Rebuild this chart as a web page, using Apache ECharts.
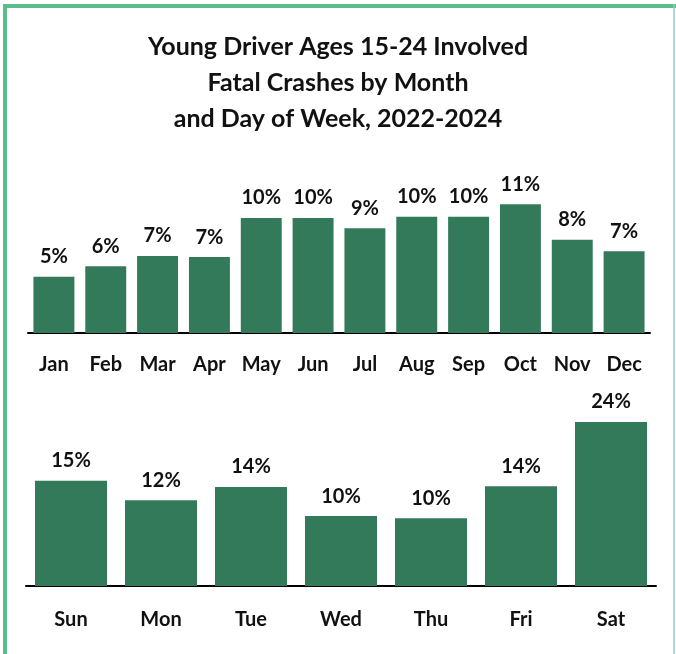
<!DOCTYPE html>
<html>
<head>
<meta charset="utf-8">
<script src="https://cdn.jsdelivr.net/npm/echarts@6/dist/echarts.min.js"></script>
<style>
  html, body { margin: 0; padding: 0; background: #fff; }
  #chart { width: 676px; height: 654px; }
</style>
</head>
<body>
<div id="chart"></div>
<script>
// 月份数据（百分比）
var months = ['Jan', 'Feb', 'Mar', 'Apr', 'May', 'Jun', 'Jul', 'Aug', 'Sep', 'Oct', 'Nov', 'Dec'];
var monthPct = [4.9, 5.8, 6.7, 6.6, 10.0, 10.0, 9.1, 10.1, 10.1, 11.2, 8.1, 7.1];

// 星期数据（百分比）
var days = ['Sun', 'Mon', 'Tue', 'Wed', 'Thu', 'Fri', 'Sat'];
var dayPct = [15.2, 12.4, 14.3, 10.1, 9.8, 14.4, 23.7];

var titleText = 'Young Driver Ages 15-24 Involved\nFatal Crashes by Month\nand Day of Week, 2022-2024';

var FONT = 'Lato';
var BAR = '#337a5b';
var EDGE = '#5bbd8e';

var chart = echarts.init(document.getElementById('chart'));

var labelStyle = {
    show: true,
    position: 'top',
    distance: 10,
    color: '#111',
    fontFamily: FONT,
    fontWeight: 'bold',
    fontSize: 20,
    formatter: function (p) { return Math.round(p.value) + '%'; }
};

function xAxisFor(idx, data, margin) {
    return {
        type: 'category',
        gridIndex: idx,
        data: data,
        axisLine: { show: true, lineStyle: { color: '#000', width: 2 } },
        axisTick: { show: false },
        axisLabel: {
            margin: margin,
            color: '#111',
            fontFamily: FONT,
            fontWeight: 'bold',
            fontSize: 20
        }
    };
}

chart.setOption({
    animation: false,
    backgroundColor: '#fff',
    title: {
        text: titleText,
        left: 'center',
        top: 24,
        textStyle: {
            fontFamily: FONT,
            fontWeight: 'bold',
            fontSize: 25,
            lineHeight: 36,
            color: '#111'
        }
    },
    graphic: [
        { type: 'line', shape: { x1: 3, y1: 6, x2: 676, y2: 6 }, style: { stroke: EDGE, lineWidth: 4 } },
        { type: 'line', shape: { x1: 5, y1: 4, x2: 5, y2: 654 }, style: { stroke: EDGE, lineWidth: 4 } },
        { type: 'line', shape: { x1: 674, y1: 4, x2: 674, y2: 654 }, style: { stroke: '#8fd3b3', lineWidth: 1.5 } }
    ],
    grid: [
        { left: 28, right: 26, top: 195, bottom: 321 },
        { left: 26, right: 20, top: 413, bottom: 68 }
    ],
    xAxis: [
        xAxisFor(0, months, 22),
        xAxisFor(1, days, 24)
    ],
    yAxis: [
        { type: 'value', gridIndex: 0, min: 0, max: 12, show: false },
        { type: 'value', gridIndex: 1, min: 0, max: 25, show: false }
    ],
    series: [
        {
            type: 'bar',
            xAxisIndex: 0,
            yAxisIndex: 0,
            data: monthPct,
            barCategoryGap: '21%',
            itemStyle: { color: BAR },
            label: labelStyle
        },
        {
            type: 'bar',
            xAxisIndex: 1,
            yAxisIndex: 1,
            data: dayPct,
            barCategoryGap: '20%',
            itemStyle: { color: BAR },
            label: labelStyle
        }
    ]
});
</script>
</body>
</html>
